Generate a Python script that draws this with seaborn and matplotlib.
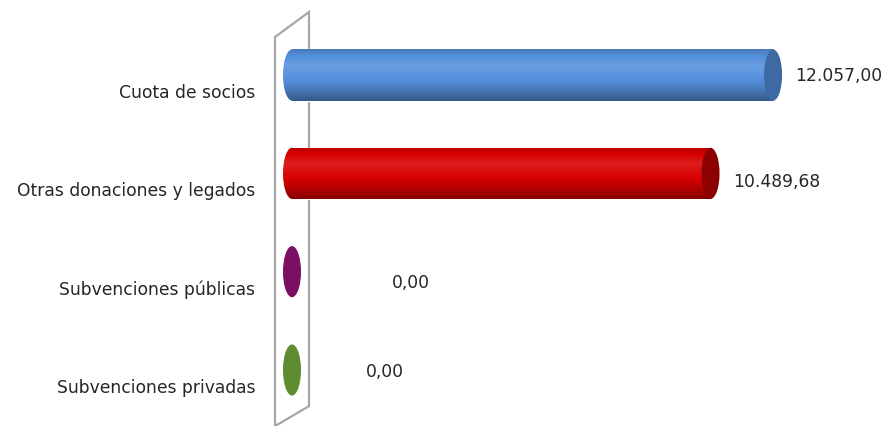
import numpy as np
import matplotlib
matplotlib.use("Agg")
import matplotlib.pyplot as plt
import seaborn as sns
import pandas as pd
from matplotlib.patches import Ellipse, Polygon
from matplotlib.transforms import ScaledTranslation
from matplotlib.colors import to_rgb

# ---- data ----
categories = ["Cuota de socios", "Otras donaciones y legados",
              "Subvenciones públicas", "Subvenciones privadas"]
values = [12057.00, 10489.68, 0.00, 0.00]
value_labels = ["12.057,00", "10.489,68", "0,00", "0,00"]

# ---- styles ----
colors = ["#5590DC", "#D80000", "#7A0F63", "#5F8C30"]
cap_colors = ["#3E6AA3", "#8C0000", "#7A0F63", "#5F8C30"]
label_dx_px = [13, 14, 91, 65]     # label offset from bar end (pixels)
label_dy_px = [0, -8, -10, -1]

sns.set_theme(style="white")
plt.rcParams["font.family"] = ["DejaVu Sans"]

W, H = 887, 427
fig = plt.figure(figsize=(W / 100, H / 100), dpi=100)
ax = fig.add_axes([265 / W, 0, (W - 265) / W, 1])

df = pd.DataFrame({"cat": categories, "val": values})
sns.barplot(data=df, y="cat", x="val", hue="cat", palette=colors,
            orient="h", width=0.52, legend=False, ax=ax, zorder=3)

px_per_unit = 0.0399
x0px = 292
cat0 = 76
sp = 98.3
xlim = ((265 - x0px) / px_per_unit, (W - x0px) / px_per_unit)
ylim = (3 + (H - 371) / sp, -cat0 / sp)

cap_w = 18 / px_per_unit


def shade(base):
    r = np.array(to_rgb(base))
    t = np.linspace(0, 1, 64)
    f = np.interp(t, [0, 0.08, 0.3, 0.6, 0.85, 1.0],
                  [0.85, 0.95, 1.12, 1.0, 0.78, 0.62])
    out = []
    for k in f:
        if k >= 1:
            c = r + (1 - r) * (k - 1)
        else:
            c = r * k
        out.append(np.clip(c, 0, 1))
    return np.array(out)[:, None, :]


bars = list(ax.patches)

# back wall (grey frame)
wl = (275 - x0px) / px_per_unit
wr = (309 - x0px) / px_per_unit


def ypx(p):
    return -cat0 / sp + p / sp


wall = Polygon([[wl, ypx(38)], [wr, ypx(13)], [wr, ypx(407)], [wl, ypx(427)]],
               closed=True, fill=False, edgecolor="#A6A6A6", lw=1.6, zorder=1)
ax.add_patch(wall)

for i, p in enumerate(bars):
    x = p.get_x(); y = p.get_y(); w = p.get_width(); h = p.get_height()
    yc = y + h / 2
    g = shade(colors[i])
    if w > 0:
        im = ax.imshow(g, extent=[x, x + w, y + h, y], aspect="auto",
                       zorder=4, interpolation="bilinear")
        im.set_clip_path(p)
        le = Ellipse((x, yc), cap_w, h, facecolor="none", edgecolor="none", zorder=4)
        ax.add_patch(le)
        im2 = ax.imshow(g, extent=[x - cap_w / 2, x + cap_w / 2, y + h, y],
                        aspect="auto", zorder=4, interpolation="bilinear")
        im2.set_clip_path(le)
    ax.add_patch(Ellipse((x + w, yc), cap_w, h, facecolor=cap_colors[i],
                         edgecolor="none", zorder=5))
    ax.text(values[i], yc, value_labels[i], ha="left", va="center",
            fontsize=12.3, color="#262626", zorder=6,
            transform=ax.transData + ScaledTranslation(
                (cap_w / 2 * px_per_unit + label_dx_px[i]) / 100,
                label_dy_px[i] / 100, fig.dpi_scale_trans))

ax.set_xlim(*xlim)
ax.set_ylim(*ylim)

ax.set_xlabel(""); ax.set_ylabel("")
ax.set_xticks([])
ax.tick_params(axis="y", length=0, pad=7, labelsize=12.3, labelcolor="#262626")
for lab in ax.get_yticklabels():
    lab.set_transform(lab.get_transform() +
                      ScaledTranslation(0, -15 / 100, fig.dpi_scale_trans))
for s in ax.spines.values():
    s.set_visible(False)
ax.set_facecolor("none")

fig.savefig("out.png", dpi=100)
